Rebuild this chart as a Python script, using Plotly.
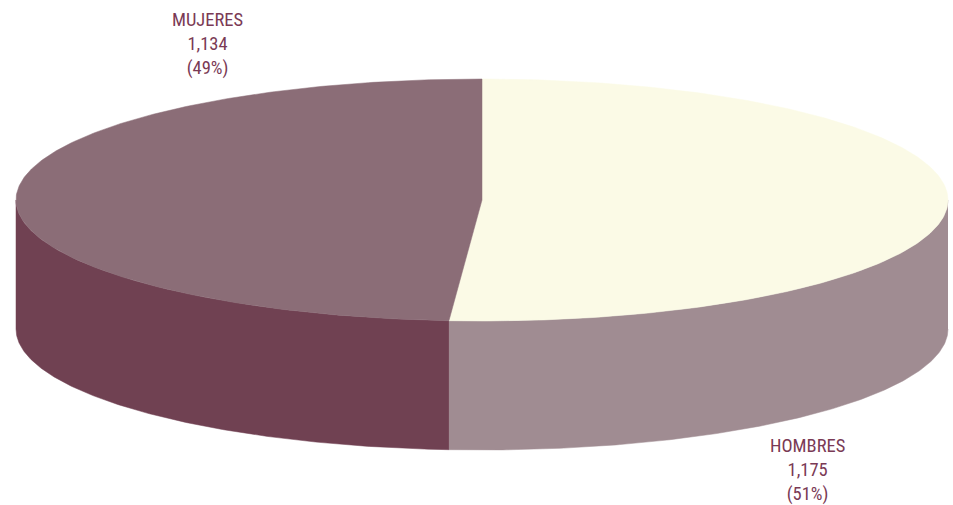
import numpy as np
import plotly.graph_objects as go

categories = ["HOMBRES", "MUJERES"]
values = [1175, 1134]
shares = ["51%", "49%"]
value_labels = ["1,175", "1,134"]
drawn_shares = [0.5113, 0.4887]  # slice sizes
top_colors = ["#FBFAE6", "#8B6D77"]
side_colors = ["#A08C92", "#704152"]

W, H = 953, 505
CX, CY, RX, RY, DEPTH = 482, 200, 466, 121, 129

split = 2 * np.pi * drawn_shares[0]


def ex(t):
    return CX + RX * np.sin(t)


def ey(t):
    return CY - RY * np.cos(t)


spans = [(0.0, split), (split, 2 * np.pi)]
fig = go.Figure()


def add(x, y, color):
    fig.add_trace(go.Scatter(x=x, y=y, mode="lines", fill="toself", fillcolor=color,
                             line=dict(color=color, width=0.5), hoverinfo="skip", showlegend=False))


# side walls: only the front half of the rim (pi/2..3pi/2) is visible
for (a, b), col in zip(spans, side_colors):
    lo, hi = max(a, np.pi / 2), min(b, 3 * np.pi / 2)
    t = np.linspace(lo, hi, 200)
    x = np.r_[ex(t), ex(t[::-1])]
    y = np.r_[ey(t), ey(t[::-1]) + DEPTH]
    add(x, y, col)

# top faces
for (a, b), col in zip(spans, top_colors):
    t = np.linspace(a, b, 300)
    add(np.r_[CX, ex(t), CX], np.r_[CY, ey(t), CY], col)

label_pos = [(807.5, 470), (207, 43.5)]
annotations = [
    dict(x=px, y=py, xref="x", yref="y", showarrow=False, align="center",
         text=f"{c}<br>{v}<br>({s})",
         font=dict(family="Liberation Sans Narrow, Roboto Condensed, Roboto, sans-serif", size=18.5, color="#7A3A55"))
    for (px, py), c, v, s in zip(label_pos, categories, value_labels, shares)
]

fig.update_layout(
    width=W, height=H, margin=dict(l=0, r=0, t=0, b=0),
    paper_bgcolor="white", plot_bgcolor="white", showlegend=False,
    xaxis=dict(range=[0, W], visible=False, fixedrange=True),
    yaxis=dict(range=[H, 0], visible=False, fixedrange=True),
    annotations=annotations,
)
fig.write_html("out.html", config=dict(displayModeBar=False),
               post_script="document.body.style.margin='0';document.body.style.overflow='hidden';")
